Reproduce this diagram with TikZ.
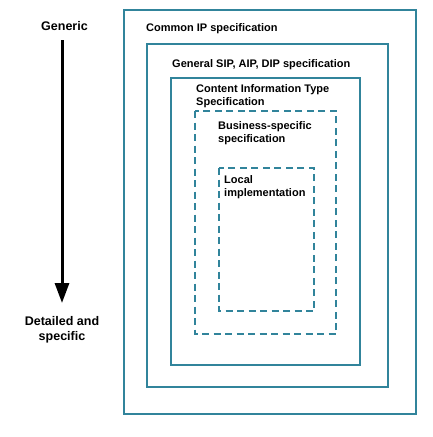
\documentclass[tikz,border=0pt]{standalone}
\usepackage{fontspec}
\setmainfont{Liberation Sans}
\usetikzlibrary{arrows.meta}
\definecolor{teal1}{HTML}{31849B}
\begin{document}
\begin{tikzpicture}[x=1pt,y=-1pt,
  box/.style={draw=teal1,line width=2pt},
  dbox/.style={draw=teal1,line width=2pt,dash pattern=on 7pt off 4.5pt},
  lbl/.style={anchor=north west,inner sep=0pt,align=left,font=\bfseries\fontsize{11}{13}\selectfont},
  side/.style={inner sep=0pt,align=center,font=\bfseries\fontsize{12.5}{14.5}\selectfont}]
\useasboundingbox (0,0) rectangle (433,437);
\draw[box] (124,10) rectangle (416,414);
\draw[box] (147,44) rectangle (388,387);
\draw[box] (171,78) rectangle (360,365);
\draw[dbox] (195,111) rectangle (336,334);
\draw[dbox] (219,168) rectangle (314,311);
\node[lbl] (l1) at (146,23) {Common IP specification};
\node[lbl] (l2) at (172,59) {General SIP, AIP, DIP specification};
\node[lbl] (l3) at (196,84) {Content Information Type\\Specification};
\node[lbl] (l4) at (218,121) {Business-specific\\specification};
\node[lbl] (l5) at (224,175) {Local\\implementation};
\node[side,anchor=base] (g) at (64.5,30) {Generic};
\node[side,anchor=north] (d) at (62,316.5) {Detailed and\\specific};
\coordinate (a1) at (62,40);
\coordinate (a2) at (62,303);
\draw[line width=3pt,-{Triangle[width=14pt,length=20pt]}] (a1) -- (a2);
\end{tikzpicture}
\end{document}
